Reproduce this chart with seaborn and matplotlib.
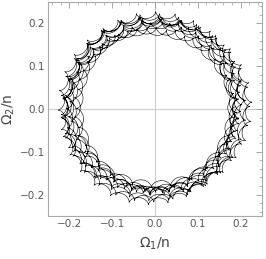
import numpy as np
import pandas as pd
import seaborn as sns
import matplotlib.pyplot as plt

# trajectory terms: amplitude, frequency (per orbit), phase
amplitudes = [0.198, 0.0076, 0.016, 0.007]
frequencies = [1.0, -27.3, 0.137, -0.21]
phases = [0.0, 0.4, 1.1, 2.3]
orbits = 10
n_points = 50000

ticks = [-0.2, -0.1, 0.0, 0.1, 0.2]
tick_labels = ["\u22120.2", "\u22120.1", "0.0", "0.1", "0.2"]

t = np.linspace(0, 2 * np.pi * orbits, n_points)
z = sum(a * np.exp(1j * (f * t + p)) for a, f, p in zip(amplitudes, frequencies, phases))
df = pd.DataFrame({"w1": z.real, "w2": z.imag})

sns.set_style("white")
fig = plt.figure(figsize=(2.66, 2.59), dpi=100)
ax = fig.add_axes([0.18, 0.166, 0.805, 0.826])

ax.axhline(0, color="#cccccc", lw=0.8, zorder=0)
ax.axvline(0, color="#cccccc", lw=0.8, zorder=0)
sns.lineplot(data=df, x="w1", y="w2", sort=False, estimator=None,
             color="black", lw=0.4, ax=ax)

ax.set_xlim(-0.25, 0.25)
ax.set_ylim(-0.25, 0.25)
ax.set_xticks(ticks)
ax.set_yticks(ticks)
ax.set_xticklabels(tick_labels)
ax.set_yticklabels(tick_labels)
ax.set_xticks(np.arange(-0.24, 0.25, 0.02), minor=True)
ax.set_yticks(np.arange(-0.24, 0.25, 0.02), minor=True)
ax.tick_params(which="both", direction="in", colors="#999999", labelcolor="#555555",
               labelsize=7.5, top=True, right=True, pad=2)
ax.tick_params(which="major", length=4, width=0.6)
ax.tick_params(which="minor", length=2, width=0.5)
for s in ax.spines.values():
    s.set_color("#aaaaaa")
    s.set_linewidth(0.8)

ax.set_xlabel("\u03a9$_1$/n", fontsize=10, color="#444444", labelpad=5)
ax.set_ylabel("\u03a9$_2$/n", fontsize=10, color="#444444", labelpad=2)

fig.savefig("out.png", dpi=100)
